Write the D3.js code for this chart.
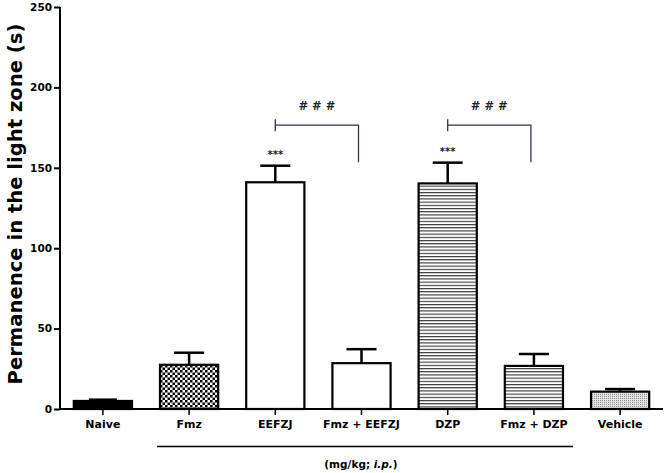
<!DOCTYPE html>
<html>
<head>
<meta charset="utf-8">
<script src="https://cdn.jsdelivr.net/npm/d3@7"></script>
<style>
  body { margin: 0; background: #fff; }
  text { font-family: "DejaVu Sans", Verdana, sans-serif; }
</style>
</head>
<body>
<div class="chart"></div>
<script>
// data
var groups = ["Naive", "Fmz", "EEFZJ", "Fmz + EEFZJ", "DZP", "Fmz + DZP", "Vehicle"];
var means = [5, 27.5, 141, 28.5, 140.3, 26.8, 10.8];
var sems = [0.8, 7.5, 10.3, 8.7, 12.9, 7.4, 1.6];
var fills = ["solid", "checker", "white", "white", "hlines", "hlines", "dots"];
var yTicks = [0, 50, 100, 150, 200, 250];

var svgWidth = 666;
var svgHeight = 473;

var svg = d3.select(".chart")
  .append("svg")
  .attr("width", svgWidth)
  .attr("height", svgHeight);

// patterns
var defs = svg.append("defs");

var checker = defs.append("pattern")
  .attr("id", "checker")
  .attr("patternUnits", "userSpaceOnUse")
  .attr("width", 5).attr("height", 5);
checker.append("rect").attr("width", 5).attr("height", 5).attr("fill", "#fff");
checker.append("rect").attr("width", 2.5).attr("height", 2.5).attr("fill", "#000");
checker.append("rect").attr("x", 2.5).attr("y", 2.5).attr("width", 2.5).attr("height", 2.5).attr("fill", "#000");

var hlines = defs.append("pattern")
  .attr("id", "hlines")
  .attr("patternUnits", "userSpaceOnUse")
  .attr("width", 6).attr("height", 3.2);
hlines.append("rect").attr("width", 6).attr("height", 3.2).attr("fill", "#fff");
hlines.append("rect").attr("y", 0).attr("width", 6).attr("height", 1.1).attr("fill", "#333");

var dots = defs.append("pattern")
  .attr("id", "dots")
  .attr("patternUnits", "userSpaceOnUse")
  .attr("width", 2).attr("height", 2);
dots.append("rect").attr("width", 2).attr("height", 2).attr("fill", "#e4e4e4");
dots.append("rect").attr("width", 1).attr("height", 1).attr("fill", "#8a8a8a");

function fillFor(f) {
  if (f == "solid") return "#000";
  if (f == "white") return "#fff";
  return "url(#" + f + ")";
}

// scales
var x = d3.scaleBand()
  .domain(groups)
  .range([60, 663])
  .paddingInner(0.325)
  .paddingOuter(0.16);

var y = d3.scaleLinear()
  .domain([0, 250])
  .range([409, 7]);

// axes
var leftAxis = d3.axisLeft(y).tickValues(yTicks).tickSize(6).tickPadding(2);
var yG = svg.append("g")
  .attr("transform", "translate(60,0)")
  .call(leftAxis);
yG.select(".domain").attr("stroke", "#000").attr("stroke-width", 2).attr("d", "M0,7V409");
yG.selectAll(".tick line").attr("stroke-width", 2);
yG.selectAll(".tick text")
  .attr("font-family", "DejaVu Sans")
  .attr("font-size", 10.5)
  .attr("font-weight", "bold")
  .attr("fill", "#000");

var bottomAxis = d3.axisBottom(x).tickSize(6).tickSizeOuter(0).tickPadding(5);
var xG = svg.append("g")
  .attr("transform", "translate(0,409)")
  .call(bottomAxis);
xG.select(".domain").attr("stroke", "#000").attr("stroke-width", 2).attr("d", "M59,0H663");
xG.selectAll(".tick line").attr("stroke-width", 1.5);
xG.selectAll(".tick text")
  .attr("font-family", "DejaVu Sans")
  .attr("font-size", 11)
  .attr("font-weight", "bold")
  .attr("fill", "#000");

// error bars (drawn before bars so stem starts at bar top)
var errG = svg.append("g");
groups.forEach(function(g, i) {
  var cx = x(g) + x.bandwidth() / 2;
  var hw = g == "Naive" ? 14 : 15;
  errG.append("line")
    .attr("x1", cx).attr("x2", cx)
    .attr("y1", y(means[i])).attr("y2", y(means[i] + sems[i]))
    .attr("stroke", "#000").attr("stroke-width", 2.5);
  errG.append("line")
    .attr("x1", cx - hw).attr("x2", cx + hw)
    .attr("y1", y(means[i] + sems[i])).attr("y2", y(means[i] + sems[i]))
    .attr("stroke", "#000").attr("stroke-width", 2.5);
});

// bars
svg.selectAll("rect.bar")
  .data(groups)
  .enter()
  .append("rect")
  .attr("class", "bar")
  .attr("x", d => x(d))
  .attr("width", x.bandwidth())
  .attr("y", (d, i) => y(means[i]))
  .attr("height", (d, i) => y(0) - y(means[i]))
  .attr("fill", (d, i) => fillFor(fills[i]))
  .attr("stroke", "#000")
  .attr("stroke-width", 2.2);

// significance stars vs naive
["EEFZJ", "DZP"].forEach(function(g) {
  var i = groups.indexOf(g);
  svg.append("text")
    .attr("x", x(g) + x.bandwidth() / 2)
    .attr("y", y(means[i] + sems[i]) - 8)
    .attr("text-anchor", "middle")
    .attr("font-size", 10)
    .attr("font-weight", "bold")
    .attr("fill", "#222")
    .text("***");
});

// brackets ###
var pairs = [["EEFZJ", "Fmz + EEFZJ"], ["DZP", "Fmz + DZP"]];
pairs.forEach(function(p) {
  var x1 = x(p[0]) + x.bandwidth() / 2;
  var x2 = x(p[1]) + x.bandwidth() / 2 - 3;
  var yb = y(176.5);
  svg.append("path")
    .attr("d", "M" + x1 + "," + (yb - 6) + "V" + (yb + 6) + "M" + x1 + "," + yb + "H" + x2 + "V" + y(153.5))
    .attr("fill", "none")
    .attr("stroke", "#2b3550")
    .attr("stroke-width", 1.3);
  svg.append("text")
    .attr("x", (x1 + x2) / 2)
    .attr("y", yb - 15)
    .attr("text-anchor", "middle")
    .attr("font-size", 11.5)
    .attr("font-weight", "bold")
    .attr("fill", "#222")
    .text("# # #");
});

// treatment line and unit label
svg.append("line")
  .attr("x1", 157).attr("x2", 573)
  .attr("y1", 446.5).attr("y2", 446.5)
  .attr("stroke", "#000").attr("stroke-width", 1.5);

var unit = svg.append("text")
  .attr("x", 361)
  .attr("y", 468)
  .attr("text-anchor", "middle")
  .attr("font-size", 10.5)
  .attr("font-weight", "bold");
unit.append("tspan").text("(mg/kg; ");
unit.append("tspan").attr("font-style", "italic").text("i.p.");
unit.append("tspan").text(")");

// y axis title
svg.append("text")
  .attr("transform", "translate(22,204) rotate(-90)")
  .attr("text-anchor", "middle")
  .attr("font-size", 19.6)
  .attr("font-weight", "bold")
  .text("Permanence in the light zone (s)");
</script>
</body>
</html>
